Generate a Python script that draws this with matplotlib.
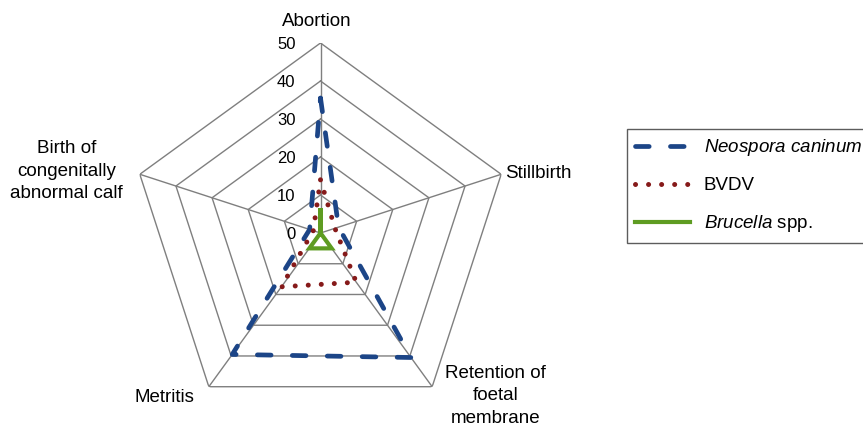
import numpy as np
import matplotlib
matplotlib.use("Agg")
import matplotlib.pyplot as plt

plt.rcParams['font.family'] = ['Liberation Sans', 'DejaVu Sans']
plt.rcParams['mathtext.fontset'] = 'custom'
plt.rcParams['mathtext.rm'] = 'Liberation Sans'
plt.rcParams['mathtext.it'] = 'Liberation Sans:italic'

# ---- data ----
categories = ["Abortion", "Stillbirth", "Retention of\nfoetal\nmembrane",
              "Metritis", "Birth of\ncongenitally\nabnormal calf"]
neospora = [35.5, 5, 40.5, 39.5, 3]
bvdv = [14, 4, 16, 17.5, 2]
brucella = [6, 0, 5, 5, 0]
ring_values = [10, 20, 30, 40, 50]
tick_labels = ["0", "10", "20", "30", "40", "50"]
series_names = [r"$\it{Neospora\ caninum}$", "BVDV", r"$\it{Brucella}$ spp."]

W, H = 863, 429
fig = plt.figure(figsize=(W / 100, H / 100), dpi=100)
cx, cy, R = 320.5, 233, 190
ax = fig.add_axes([(cx - R) / W, (H - cy - R) / H, 2 * R / W, 2 * R / H],
                  projection='polar')
ax.set_theta_zero_location('N')
ax.set_theta_direction(-1)
ax.set_ylim(0, 50)
ax.set_xticks([])
ax.set_yticks([])
ax.grid(False)
ax.spines['polar'].set_visible(False)
ax.patch.set_visible(False)

n = len(categories)
theta = np.arange(n) * 2 * np.pi / n
theta_c = np.append(theta, theta[0])

grid_col = '#7f7f7f'
for rv in ring_values:
    ax.plot(theta_c, [rv] * (n + 1), color=grid_col, lw=1.0, zorder=1)
for t in theta:
    ax.plot([t, t], [0, 50], color=grid_col, lw=1.0, zorder=1)

def closed(v):
    return np.append(v, v[0])

l1, = ax.plot(theta_c, closed(neospora), color='#1c4587', lw=3.4,
              dashes=(2.9, 4.5), dash_capstyle='round', zorder=3,
              label=series_names[0])
l2, = ax.plot(theta_c, closed(bvdv), color='#861a1a', lw=3.6,
              dashes=(0.01, 2.6), dash_capstyle='round', zorder=4,
              label=series_names[1])
l3, = ax.plot(theta_c, closed(brucella), color='#5e9c22', lw=3.0,
              solid_joinstyle='miter', zorder=5, label=series_names[2])

# radial tick labels
px = 72 / 100.0  # pixels -> points
for i, lab in enumerate(tick_labels):
    ax.annotate(lab, xy=(0, i * 10), xytext=(-25 * px, -1.5 * px),
                textcoords='offset points', ha='right', va='center',
                fontsize=12, annotation_clip=False)

# category labels (pixel offsets from vertex)
offsets = [(-4, 21, 'center'), (4, 1, 'left'), (63, -9, 'center'),
           (-44, -11, 'center'), (-73, 3, 'center')]
for t, lab, (dx, dy, ha) in zip(theta, categories, offsets):
    ax.annotate(lab, xy=(t, 50), xytext=(dx * px, dy * px),
                textcoords='offset points', ha=ha, va='center',
                multialignment='center', fontsize=13.5, linespacing=1.42,
                annotation_clip=False)

# legend: frame runs past the right edge as in the reference
leg = fig.legend(handles=[l1, l2, l3], loc='upper left',
                 bbox_to_anchor=(627 / W, (H - 129) / H, 260 / W, 0),
                 bbox_transform=fig.transFigure, borderaxespad=0,
                 mode='expand',
                 fontsize=13.5, frameon=True, fancybox=False,
                 handlelength=2.9, handletextpad=0.75, labelspacing=1.0,
                 borderpad=0.45)
leg.get_frame().set_edgecolor('#333333')
leg.get_frame().set_linewidth(1.0)

fig.savefig('out.png', dpi=100)
